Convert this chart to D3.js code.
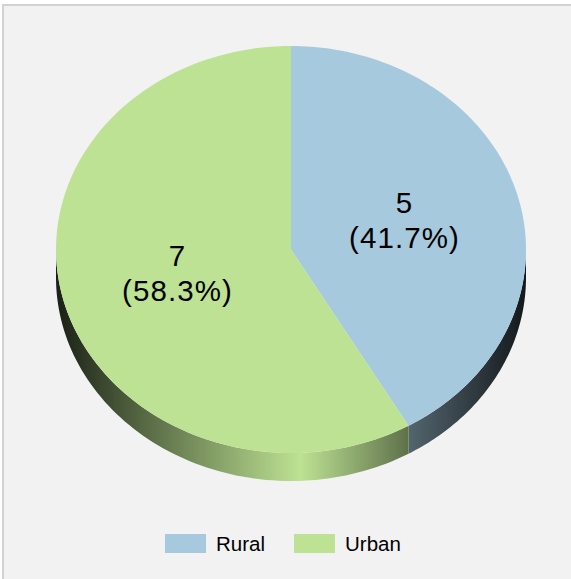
<!DOCTYPE html>
<html>
<head>
<meta charset="utf-8">
<script src="https://cdn.jsdelivr.net/npm/d3@7/dist/d3.min.js"></script>
<style>
  html, body { margin: 0; padding: 0; background: #ffffff; }
  svg { display: block; }
  text { font-family: "Liberation Sans", Arial, sans-serif; }
</style>
</head>
<body>
<svg id="chart" width="571" height="579"></svg>
<script>
// Household counts by area type
const categories = ["Rural", "Urban"];
const counts = [5, 7];
const colors = ["#a6c9dd", "#bde293"];

const W = 571, H = 579;
const svg = d3.select("#chart");

// Panel background and frame
svg.append("rect").attr("x", 0).attr("y", 0).attr("width", W).attr("height", H).attr("fill", "#ffffff");
svg.append("rect").attr("x", 3).attr("y", 5).attr("width", W + 10).attr("height", H + 10)
  .attr("fill", "#f2f2f2").attr("stroke", "#d2d2d2").attr("stroke-width", 2);

// Tilted pie geometry
const cx = 291, cy = 249.5, rx = 235, ry = 203.5, depth = 28;
const pt = (a, dy = 0) => [cx + rx * Math.sin(a), cy - ry * Math.cos(a) + dy];

const pie = d3.pie().sort(null).value(d => d);
const arcs = pie(counts);
const total = d3.sum(counts);

// Side shading gradients, dark at the rim edges and light near the middle
const defs = svg.append("defs");
colors.forEach((c, i) => {
  const g = defs.append("linearGradient").attr("id", "side" + i)
    .attr("gradientUnits", "userSpaceOnUse")
    .attr("x1", cx - rx).attr("x2", cx + rx).attr("y1", 0).attr("y2", 0);
  const mix = t => d3.interpolateRgb(c, "#000000")(t);
  [[0, 0.86], [0.18, 0.55], [0.52, 0], [0.75, 0.5], [1, 0.88]].forEach(([o, t]) => {
    g.append("stop").attr("offset", o).attr("stop-color", mix(t));
  });
});

// Front walls: the part of each slice's arc on the near half of the ellipse
const line = d3.line();
arcs.forEach((a, i) => {
  const s = Math.max(a.startAngle, Math.PI / 2);
  const e = Math.min(a.endAngle, 3 * Math.PI / 2);
  if (e <= s) return;
  const n = 80;
  const angs = d3.range(n + 1).map(k => s + (e - s) * k / n);
  const pts = angs.map(t => pt(t)).concat(angs.slice().reverse().map(t => pt(t, depth)));
  svg.append("path").attr("d", line(pts) + "Z").attr("fill", `url(#side${i})`);
});

// Top faces
arcs.forEach((a, i) => {
  const n = 120;
  const angs = d3.range(n + 1).map(k => a.startAngle + (a.endAngle - a.startAngle) * k / n);
  const pts = [[cx, cy]].concat(angs.map(t => pt(t)));
  svg.append("path").attr("d", line(pts) + "Z").attr("fill", colors[i]);
});

// Value and percentage labels
arcs.forEach((a, i) => {
  const mid = (a.startAngle + a.endAngle) / 2;
  const x = cx + rx * 0.5 * Math.sin(mid);
  const y = cy - ry * 0.5 * Math.cos(mid);
  const t = svg.append("text").attr("text-anchor", "middle")
    .attr("font-size", 29.5).attr("fill", "#000").style("letter-spacing", "1.1px");
  t.append("tspan").attr("x", x).attr("y", y - 10).text(counts[i]);
  t.append("tspan").attr("x", x).attr("y", y + 25)
    .text("(" + d3.format(".1%")(counts[i] / total) + ")");
});

// Legend
const legendX = [165, 294];
categories.forEach((c, i) => {
  const g = svg.append("g").attr("transform", `translate(${legendX[i]},534)`);
  g.append("rect").attr("width", 41).attr("height", 19).attr("fill", colors[i]);
  g.append("text").attr("x", 51).attr("y", 17).attr("font-size", 20.5).attr("fill", "#000").text(c);
});
</script>
</body>
</html>
